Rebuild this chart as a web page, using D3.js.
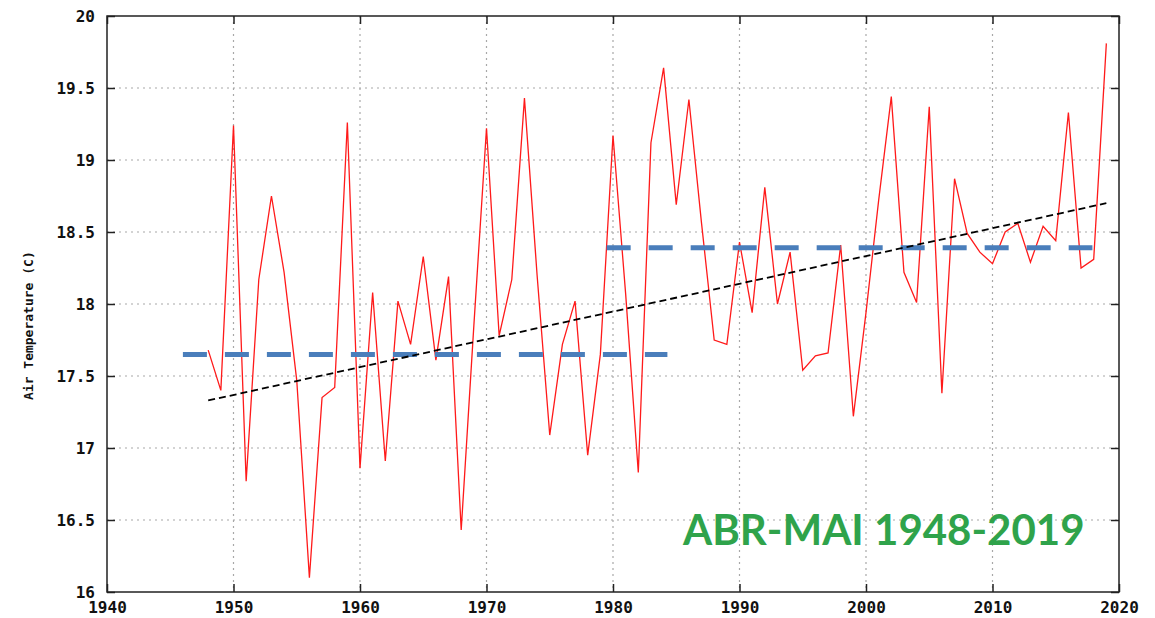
<!DOCTYPE html>
<html>
<head>
<meta charset="UTF-8">
<style>
  body { margin: 0; background: #fff; }
  svg { display: block; }
  .tick text { font-family: "DejaVu Sans Mono", monospace; font-weight: bold; font-size: 16px; fill: #111; }
</style>
</head>
<body>
<svg id="chart"></svg>
<script src="https://d3js.org/d3.v7.min.js"></script>
<script>

// Apr-May mean air temperature, 1948-2019
let years = d3.range(1948, 2020);
let temps = [
  17.68, 17.40, 19.24, 16.77, 18.17, 18.75, 18.22, 17.47, 16.10, 17.35,
  17.42, 19.26, 16.86, 18.08, 16.91, 18.02, 17.72, 18.33, 17.61, 18.19,
  16.43, 17.85, 19.22, 17.78, 18.17, 19.43, 18.20, 17.09, 17.72, 18.02,
  16.95, 17.65, 19.17, 18.07, 16.83, 19.12, 19.64, 18.69, 19.42, 18.56,
  17.75, 17.72, 18.43, 17.94, 18.81, 18.00, 18.36, 17.54, 17.64, 17.66,
  18.41, 17.22, 17.94, 18.72, 19.44, 18.22, 18.01, 19.37, 17.38, 18.87,
  18.49, 18.36, 18.28, 18.50, 18.56, 18.29, 18.54, 18.44, 19.33, 18.25,
  18.31, 19.81
];

// linear trend
let trendYears = [1948, 2019];
let trendValues = [17.33, 18.70];

// period means, drawn as thick blue dashes
let meanStarts = [1946.0, 1979.5];
let meanEnds = [1984.3, 2017.9];
let meanValues = [17.65, 18.39];

let xTicks = [1940, 1950, 1960, 1970, 1980, 1990, 2000, 2010, 2020];
let yTicks = [16, 16.5, 17, 17.5, 18, 18.5, 19, 19.5, 20];

let W = 1155, H = 618;
let margin = {left: 107, top: 16, right: 36, bottom: 26};
let width = W - margin.left - margin.right;
let height = H - margin.top - margin.bottom;

let svg = d3.select("#chart").attr("width", W).attr("height", H);
let g = svg.append("g").attr("transform", "translate(" + margin.left + "," + margin.top + ")");

let x = d3.scaleLinear().domain([1940, 2020]).range([0, width]);
let y = d3.scaleLinear().domain([16, 20]).range([height, 0]);

// grid
g.append("g").selectAll("line")
  .data(yTicks.slice(1, -1))
  .enter().append("line")
  .attr("x1", 0).attr("x2", width)
  .attr("y1", d => y(d)).attr("y2", d => y(d))
  .attr("stroke", "#a8a8a8").attr("stroke-width", 1.2)
  .attr("stroke-dasharray", "2,4");
g.append("g").selectAll("line")
  .data(xTicks.slice(1, -1))
  .enter().append("line")
  .attr("y1", 0).attr("y2", height)
  .attr("x1", d => x(d)).attr("x2", d => x(d))
  .attr("stroke", "#a8a8a8").attr("stroke-width", 1.2)
  .attr("stroke-dasharray", "2,4");

// axes, ticks pointing inwards
let fmt = d => String(d);
g.append("g").call(d3.axisLeft(y).tickValues(yTicks).tickFormat(fmt).tickSize(-8).tickPadding(12));
g.append("g").attr("transform", "translate(" + width + ",0)")
  .call(d3.axisRight(y).tickValues(yTicks).tickFormat("").tickSize(-8));
g.append("g").attr("transform", "translate(0," + height + ")")
  .call(d3.axisBottom(x).tickValues(xTicks).tickFormat(fmt).tickSize(-8).tickPadding(10));
g.append("g").call(d3.axisTop(x).tickValues(xTicks).tickFormat("").tickSize(-8));
g.selectAll(".domain").remove();
g.selectAll(".tick line").attr("stroke", "#222").attr("stroke-width", 1.5);

g.append("rect")
  .attr("width", width).attr("height", height)
  .attr("fill", "none").attr("stroke", "#222").attr("stroke-width", 1.5);

// temperature series
let line = d3.line().x((d, i) => x(years[i])).y(d => y(d));
g.append("path")
  .datum(temps)
  .attr("d", line)
  .attr("fill", "none")
  .attr("stroke", "#ff1a1a")
  .attr("stroke-width", 1.3);

// period means
g.append("g").selectAll("line")
  .data(meanValues)
  .enter().append("line")
  .attr("x1", (d, i) => x(meanStarts[i])).attr("x2", (d, i) => x(meanEnds[i]))
  .attr("y1", d => y(d)).attr("y2", d => y(d))
  .attr("stroke", "#4a7ebb").attr("stroke-width", 5)
  .attr("stroke-dasharray", "24,18");

// trend
g.append("line")
  .attr("x1", x(trendYears[0])).attr("x2", x(trendYears[1]))
  .attr("y1", y(trendValues[0])).attr("y2", y(trendValues[1]))
  .attr("stroke", "#000").attr("stroke-width", 1.8)
  .attr("stroke-dasharray", "7,4");

// axis title
svg.append("text")
  .attr("transform", "translate(33,400) rotate(-90)")
  .attr("text-anchor", "start")
  .style("font-family", "DejaVu Sans Mono, monospace")
  .style("font-weight", "bold")
  .style("font-size", "13px")
  .attr("fill", "#111")
  .text("Air Temperature (C)");

// label
svg.append("text")
  .attr("x", 683).attr("y", 545)
  .style("font-family", "Lato, sans-serif")
  .style("font-weight", "bold")
  .style("font-size", "42px")
  .attr("fill", "#2fa34b")
  .text("ABR-MAI 1948-2019");

</script>
</body>
</html>
